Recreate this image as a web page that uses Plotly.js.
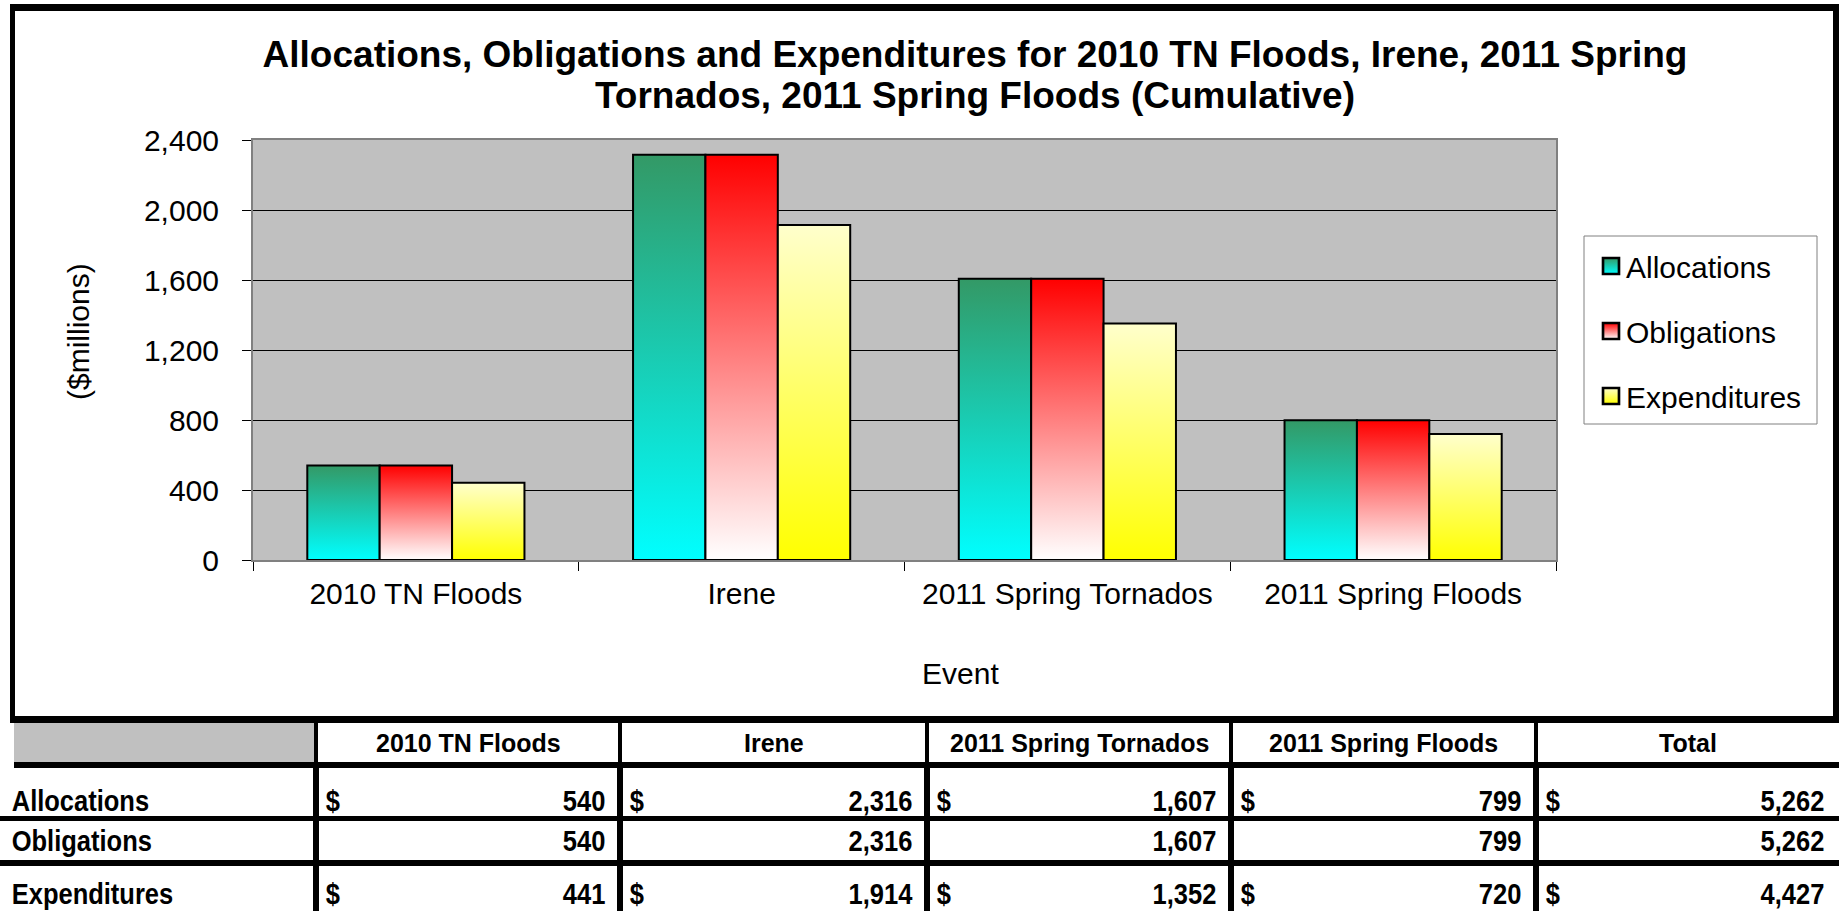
<!DOCTYPE html>
<html>
<head>
<meta charset="utf-8">
<script src="https://cdn.plot.ly/plotly-3.0.1.min.js"></script>
<style>
html,body{margin:0;padding:0;background:#fff;}
#chart{width:1841px;height:911px;}
</style>
</head>
<body>
<div id="chart"></div>
<script>
// ---- data ----
const categories = ['2010 TN Floods', 'Irene', '2011 Spring Tornados', '2011 Spring Floods'];
const seriesNames = ['Allocations', 'Obligations', 'Expenditures'];
const allocations = [540, 2316, 1607, 799];
const obligations = [540, 2316, 1607, 799];
const expenditures = [441, 1914, 1352, 720];
const yTickVals = [0, 400, 800, 1200, 1600, 2000, 2400];
const totalLabel = 'Total';
const dollarRows = [true, false, true];
const titleText = 'Allocations, Obligations and Expenditures for 2010 TN Floods, Irene, 2011 Spring<br>Tornados, 2011 Spring Floods (Cumulative)';
const yTitle = '($millions)';
const xTitle = 'Event';

// ---- styling ----
const seriesValues = [allocations, obligations, expenditures];
const baseColors = ['#1ACCB3', '#FF8080', '#FFFF66'];
const gradStops = [['#339966', '#00FFFF'], ['#FF0000', '#FFFFFF'], ['#FFFFCC', '#FFFF00']];
const FONT = 'Liberation Sans, Arial, sans-serif';
const NARROW_SCALE = 0.85;

const W = 1841, H = 911, L = 253, R = 1556, T = 140, B = 560;
const px = x => (x - L) / (R - L);
const py = y => (B - y) / (B - T);

const traces = seriesNames.map((name, i) => ({
  type: 'bar', name: name, x: categories, y: seriesValues[i],
  legendgroup: 'g' + i,
  marker: {color: baseColors[i], line: {color: '#000', width: 2}},
  hoverinfo: 'skip'
}));

const shapes = [];
const annotations = [];
const narrowAnn = []; // [index, anchor pixel x]
function hline(x0, x1, y, w) { shapes.push({type: 'line', xref: 'paper', yref: 'paper', x0: px(x0), x1: px(x1), y0: py(y), y1: py(y), line: {color: '#000', width: w}}); }
function vline(x, y0, y1, w) { shapes.push({type: 'line', xref: 'paper', yref: 'paper', x0: px(x), x1: px(x), y0: py(y0), y1: py(y1), line: {color: '#000', width: w}}); }
function text(t, x, y, anchor, size, narrow) {
  if (narrow) narrowAnn.push([annotations.length, x]);
  annotations.push({text: t, xref: 'paper', yref: 'paper', x: px(x), y: py(y), xanchor: anchor, yanchor: 'middle', showarrow: false, font: {family: FONT, size: size, color: '#000'}});
}

// legend frame
shapes.push({type: 'rect', xref: 'paper', yref: 'paper', x0: px(1584), x1: px(1817), y0: py(236), y1: py(424), line: {color: '#808080', width: 1}});

// outer chart frame
hline(10, 1839, 7.5, 7);
vline(12.5, 4, 723, 5);
vline(1836, 4, 723, 6);

// table
const colEdges = [316, 620, 927, 1231, 1536, 1839];
shapes.push({type: 'rect', xref: 'paper', yref: 'paper', x0: px(14), x1: px(314), y0: py(723), y1: py(762), fillcolor: '#C0C0C0', line: {width: 0}, layer: 'below'});
hline(10, 1839, 719.5, 7);
hline(14, 1839, 765, 6);
hline(0, 1839, 818.5, 5);
hline(0, 1839, 863, 6);
for (let c = 0; c < 5; c++) {
  vline(colEdges[c], 723, 762, 4);
  vline(colEdges[c], 768, 911, 6);
}

const headers = categories.concat([totalLabel]);
headers.forEach((h, c) => text('<b>' + h + '</b>', (colEdges[c] + colEdges[c + 1]) / 2, 743, 'center', 25, false));

const fmt = v => v.toLocaleString('en-US');
seriesNames.forEach((name, r) => {
  const yc = [800, 841, 894][r];
  text('<b>' + name + '</b>', 10, yc, 'left', 30, true);
  const vals = seriesValues[r].concat([seriesValues[r].reduce((a, b) => a + b, 0)]);
  vals.forEach((v, c) => {
    if (dollarRows[r]) text('<b>$</b>', colEdges[c] + 8, yc, 'left', 30, true);
    text('<b>' + fmt(v) + '</b>', colEdges[c + 1] - 13, yc, 'right', 30, true);
  });
});

// axis titles
annotations.push({text: yTitle, xref: 'paper', yref: 'paper', x: px(78), y: py(332), xanchor: 'center', yanchor: 'middle', textangle: -90, showarrow: false, font: {family: FONT, size: 30, color: '#000'}});
annotations.push({text: xTitle, xref: 'paper', yref: 'paper', x: px(960), y: py(673), xanchor: 'center', yanchor: 'middle', showarrow: false, font: {family: FONT, size: 30, color: '#000'}});

const layout = {
  width: W, height: H,
  margin: {l: L, r: W - R, t: T, b: H - B, pad: 0},
  paper_bgcolor: '#fff', plot_bgcolor: '#C0C0C0',
  font: {family: FONT, color: '#000', size: 30},
  title: {text: '<b>' + titleText + '</b>', font: {family: FONT, size: 37, color: '#000'}, xref: 'container', yref: 'container', x: 975 / W, xanchor: 'center', y: 1 - 67 / H, yanchor: 'middle'},
  barmode: 'group', bargap: 1 / 3, bargroupgap: 0,
  showlegend: true,
  legend: {x: px(1586), y: py(240), xanchor: 'left', yanchor: 'top', bgcolor: 'rgba(0,0,0,0)', borderwidth: 0, font: {family: FONT, size: 30, color: '#000'}, tracegroupgap: 23, traceorder: 'grouped'},
  xaxis: {type: 'category', tickson: 'boundaries', ticks: 'outside', ticklen: 9, tickwidth: 1, tickcolor: '#000', showline: true, linecolor: '#808080', linewidth: 2, mirror: true, showgrid: false, tickfont: {family: FONT, size: 30, color: '#000'}, ticklabelstandoff: 6},
  yaxis: {range: [0, 2400], tickvals: yTickVals, tickformat: ',', ticks: 'outside', ticklen: 9, tickwidth: 1, tickcolor: '#000', showline: true, linecolor: '#808080', linewidth: 2, mirror: true, showgrid: true, gridcolor: '#000', gridwidth: 1, zeroline: false, tickfont: {family: FONT, size: 30, color: '#000'}, ticklabelstandoff: 17},
  shapes: shapes,
  annotations: annotations
};

function postProcess(gd) {
  const NS = 'http://www.w3.org/2000/svg';
  const svg = gd.querySelector('svg.main-svg');
  let defs = svg.querySelector('defs');
  if (!defs) { defs = document.createElementNS(NS, 'defs'); svg.insertBefore(defs, svg.firstChild); }
  gradStops.forEach((st, i) => {
    const lg = document.createElementNS(NS, 'linearGradient');
    lg.setAttribute('id', 'bargrad' + i);
    lg.setAttribute('x1', '0'); lg.setAttribute('y1', '0'); lg.setAttribute('x2', '0'); lg.setAttribute('y2', '1');
    st.forEach((col, k) => {
      const s = document.createElementNS(NS, 'stop');
      s.setAttribute('offset', k === 0 ? '0' : '1');
      s.setAttribute('stop-color', col);
      lg.appendChild(s);
    });
    defs.appendChild(lg);
  });
  gd.querySelectorAll('.barlayer .trace').forEach((tr, i) => {
    tr.querySelectorAll('path').forEach(p => { p.style.fill = 'url(#bargrad' + i + ')'; });
  });
  gd.querySelectorAll('.legend .traces').forEach((tr, i) => {
    tr.querySelectorAll('.legendpoints path').forEach(p => {
      p.style.fill = 'url(#bargrad' + i + ')';
      p.setAttribute('transform', 'translate(25,0) scale(1.33)');
    });
  });
  // condensed table body text (Arial Narrow look)
  narrowAnn.forEach(([idx, ax]) => {
    const g = gd.querySelector('.annotation[data-index="' + idx + '"]');
    if (g) g.setAttribute('transform', 'translate(' + ax + ',0) scale(' + NARROW_SCALE + ',1) translate(' + (-ax) + ',0)');
  });
  // tighter title line spacing
  const lines = gd.querySelectorAll('.gtitle tspan.line');
  if (lines.length > 1) lines[1].setAttribute('dy', '1.11em');
}

Plotly.newPlot('chart', traces, layout, {displayModeBar: false, staticPlot: true}).then(postProcess);
</script>
</body>
</html>
